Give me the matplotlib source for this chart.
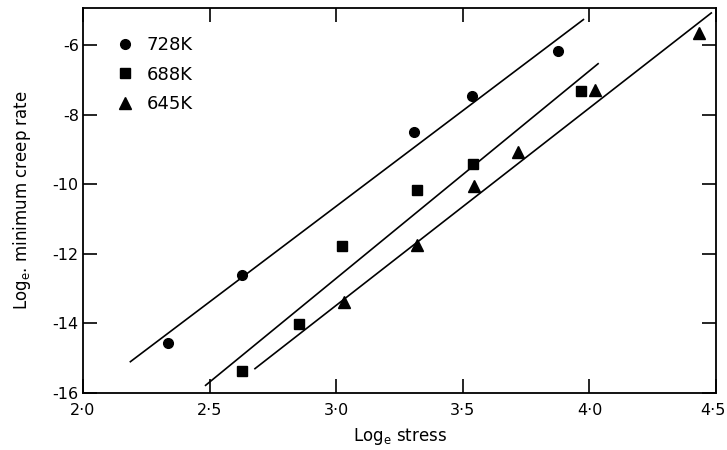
import matplotlib
matplotlib.use("Agg")
import matplotlib.pyplot as plt
import matplotlib.transforms as mtransforms

# Data (loge stress, loge minimum creep rate)
x728 = [2.337, 2.627, 3.308, 3.536, 3.876]
y728 = [-14.55, -12.62, -8.50, -7.45, -6.16]
x688 = [2.626, 2.854, 3.022, 3.317, 3.540, 3.968]
y688 = [-15.37, -14.01, -11.78, -10.16, -9.42, -7.30]
x645 = [3.030, 3.317, 3.545, 3.717, 4.021, 4.433]
y645 = [-13.37, -11.73, -10.05, -9.06, -7.28, -5.66]

# Fitted line endpoints
fit728_x = [2.187, 3.976]
fit728_y = [-15.10, -5.26]
fit688_x = [2.484, 4.034]
fit688_y = [-15.78, -6.53]
fit645_x = [2.679, 4.481]
fit645_y = [-15.30, -5.07]

labels = ["728K", "688K", "645K"]
xticks = [2.0, 2.5, 3.0, 3.5, 4.0, 4.5]
xticklabels = ["2·0", "2·5", "3·0", "3·5", "4·0", "4·5"]
yticks = [-16, -14, -12, -10, -8, -6]
yticklabels = ["-16", "-14", "-12", "-10", "-8", "-6"]

plt.rcParams['font.family'] = ['DejaVu Sans']
fig = plt.figure(figsize=(7.27, 4.5), dpi=100)
ax = fig.add_axes([0.1142, 0.1267, 0.8708, 0.8553])

ax.plot(fit728_x, fit728_y, color='black', lw=1.2)
ax.plot(fit688_x, fit688_y, color='black', lw=1.2)
ax.plot(fit645_x, fit645_y, color='black', lw=1.2)

h1, = ax.plot(x728, y728, 'o', color='black', ms=7, ls='none', label=labels[0])
h2, = ax.plot(x688, y688, 's', color='black', ms=7, ls='none', label=labels[1])
h3, = ax.plot(x645, y645, '^', color='black', ms=8, ls='none', label=labels[2])

ax.set_xlim(2.0, 4.5)
ax.set_ylim(-16, -4.93)
ax.set_xticks(xticks)
ax.set_xticklabels(xticklabels, fontsize=11.5)
ax.set_yticks(yticks)
ax.set_yticklabels(yticklabels, fontsize=11.5)
ax.tick_params(axis='both', direction='in', length=10, width=1.2, top=True, right=True)
ax.tick_params(axis='x', pad=7)
ax.tick_params(axis='y', pad=3)
for s in ax.spines.values():
    s.set_linewidth(1.3)

# keep the last x tick label inside the figure
last = ax.get_xticklabels()[-1]
last.set_ha('right')
last.set_transform(last.get_transform() + mtransforms.ScaledTranslation(10/100, 0, fig.dpi_scale_trans))

ax.set_xlabel("Log$_\\mathregular{e}$ stress", fontsize=12, labelpad=6)
ax.set_ylabel("Log$_\\mathregular{e}$. minimum creep rate", fontsize=12, labelpad=14)

leg = ax.legend(handles=[h1, h2, h3], loc='upper left', frameon=False,
                fontsize=13, bbox_to_anchor=(0.04, 0.945), handletextpad=0.7,
                labelspacing=0.62, handlelength=1.0, borderaxespad=0)

fig.savefig("out.png", dpi=100)
